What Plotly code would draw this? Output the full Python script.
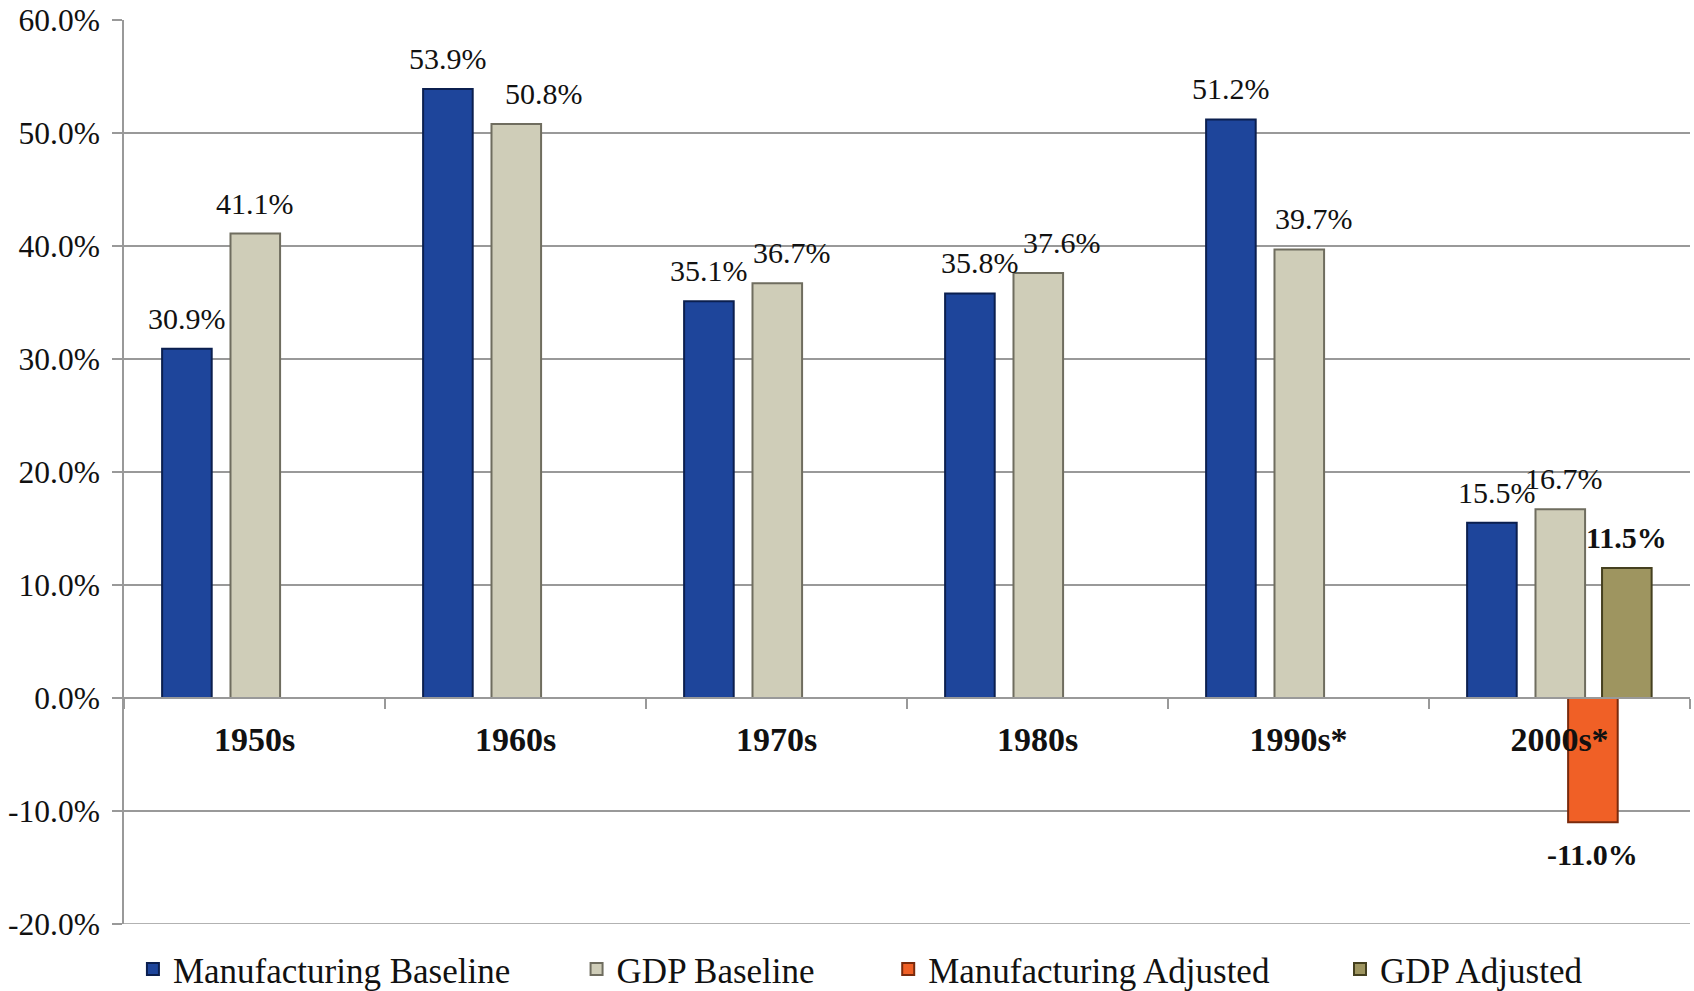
import plotly.graph_objects as go

# ---- data ----
CATEGORIES = ["1950s", "1960s", "1970s", "1980s", "1990s*", "2000s*"]
MFG_BASELINE = [30.9, 53.9, 35.1, 35.8, 51.2, 15.5]
GDP_BASELINE = [41.1, 50.8, 36.7, 37.6, 39.7, 16.7]
MFG_ADJUSTED = [None, None, None, None, None, -11.0]
GDP_ADJUSTED = [None, None, None, None, None, 11.5]
Y_TICKS = [-20, -10, 0, 10, 20, 30, 40, 50, 60]
Y_TICK_LABELS = ["-20.0%", "-10.0%", "0.0%", "10.0%", "20.0%", "30.0%", "40.0%", "50.0%", "60.0%"]

FONT = "Liberation Serif"
BAR_W = 0.19

# horizontal label nudges (px) that mimic the original's label placement to avoid overlaps
LABEL_NUDGE = {
    ("GDP Baseline", 1): 28, ("GDP Baseline", 2): 15, ("GDP Baseline", 3): 24,
    ("GDP Baseline", 4): 15, ("GDP Baseline", 5): 4,
    ("Manufacturing Baseline", 3): 10, ("Manufacturing Baseline", 5): 5,
}

series = [
    # name, values, offset, fill, edge, bold labels, legend id, legend x
    ("Manufacturing Baseline", MFG_BASELINE, -0.354, "#1E459B", "#0B1F4F", False, "legend", 0.0057),
    ("GDP Baseline", GDP_BASELINE, -0.092, "#CFCDB8", "#6F6D5F", False, "legend2", 0.289),
    ("Manufacturing Adjusted", MFG_ADJUSTED, 0.033, "#F06026", "#7A2A0C", True, "legend3", 0.488),
    ("GDP Adjusted", GDP_ADJUSTED, 0.163, "#9E9560", "#45401F", True, "legend4", 0.7765),
]

fig = go.Figure()
annotations = []
for name, vals, off, fill, edge, bold, leg, lx in series:
    fig.add_trace(go.Bar(
        x=CATEGORIES, y=vals, name=name, offset=off, width=BAR_W,
        marker=dict(color=fill, line=dict(color=edge, width=2)),
        legend=leg, showlegend=True,
    ))
    for i, v in enumerate(vals):
        if v is None:
            continue
        annotations.append(dict(
            x=i + off + BAR_W / 2, y=v, xref="x", yref="y",
            text=f"<b>{v:.1f}%</b>" if bold else f"{v:.1f}%",
            showarrow=False,
            yanchor="bottom" if v >= 0 else "top",
            yshift=12 if v >= 0 else -14,
            xshift=LABEL_NUDGE.get((name, i), 0),
            font=dict(family=FONT, size=30, color="#111111"),
        ))

legend_common = dict(
    orientation="h", yref="container", yanchor="middle", y=0.022, xanchor="left",
    font=dict(family=FONT, size=35, color="#111111"),
    bgcolor="rgba(0,0,0,0)", borderwidth=0,
)
layout_legends = {}
for name, vals, off, fill, edge, bold, leg, lx in series:
    layout_legends[leg] = dict(legend_common, x=lx)

fig.update_layout(
    width=1694, height=991,
    margin=dict(l=124, r=4, t=20, b=67, autoexpand=False),
    paper_bgcolor="white", plot_bgcolor="white",
    barmode="overlay",
    annotations=annotations,
    shapes=[dict(type="line", xref="paper", x0=0, x1=1, yref="y",
                 y0=Y_TICKS[0], y1=Y_TICKS[0],
                 line=dict(color="#999999", width=1.5), layer="below")],
    xaxis=dict(
        type="category", range=[-0.5, 5.5],
        anchor="free", position=0.25,
        showline=True, linecolor="#999999", linewidth=1.5,
        ticks="outside", tickson="boundaries", ticklen=10, tickcolor="#999999", tickwidth=1.5,
        showgrid=False,
        tickfont=dict(family=FONT, size=34, color="#111111", weight="bold"),
        ticklabelstandoff=11,
    ),
    yaxis=dict(
        range=[-20, 60], domain=[0, 1],
        tickvals=Y_TICKS, ticktext=Y_TICK_LABELS,
        showline=True, linecolor="#999999", linewidth=1.5,
        ticks="outside", ticklen=10, tickcolor="#999999", tickwidth=1.5,
        showgrid=True, gridcolor="#999999", gridwidth=1.5,
        zeroline=False,
        tickfont=dict(family=FONT, size=31.5, color="#111111"),
        ticklabelstandoff=6,
    ),
    **layout_legends,
)

fig.write_html("out.html", config={"displayModeBar": False},
               post_script="document.body.style.margin='0';")
